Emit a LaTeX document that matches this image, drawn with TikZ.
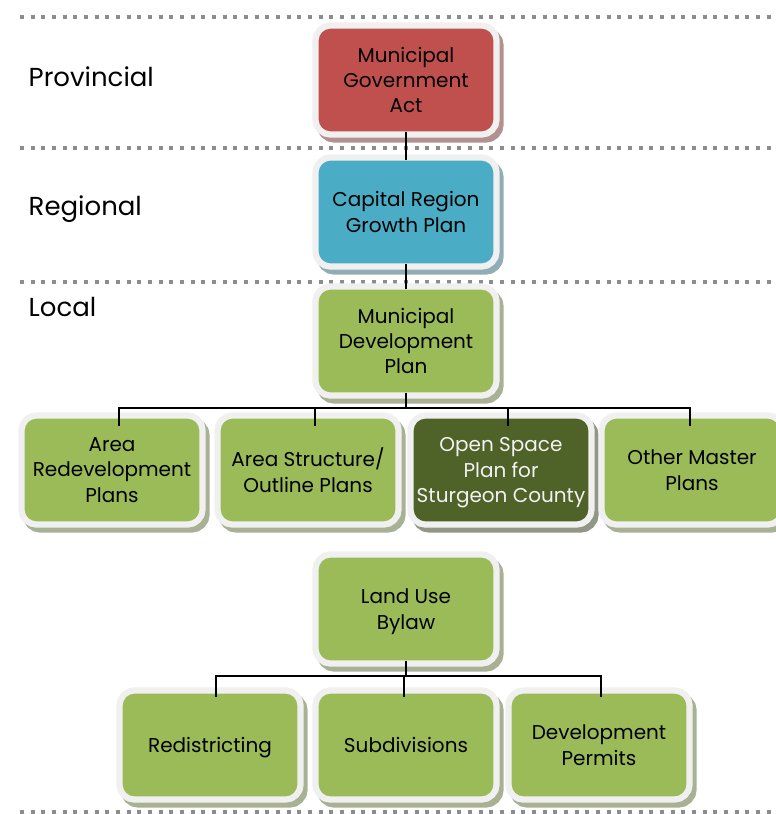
\documentclass[tikz,border=0pt]{standalone}
\usepackage{fontspec}
\setmainfont{Poppins}

\definecolor{actred}{HTML}{C0504D}
\definecolor{regionblue}{HTML}{4BACC6}
\definecolor{localgreen}{HTML}{9BBB59}
\definecolor{opengreen}{HTML}{4F6228}
\definecolor{framegray}{HTML}{F0F0F0}
\definecolor{tiergray}{HTML}{8C8C8C}

\begin{document}
\begin{tikzpicture}[x=0.75pt, y=-0.75pt,
		plan/.style={fill=#1, rounded corners=9pt, minimum width=131pt, minimum height=77pt,
			align=center, inner sep=2pt, text depth=-5pt, font=\fontsize{15}{19}\selectfont,
			preaction={draw=#1!40!gray!75!white, fill=#1!40!gray!75!white, line width=9.5pt,
				transform canvas={shift={(4,5)}}},
			preaction={draw=framegray, line width=9.5pt}},
		level/.style={anchor=west, font=\fontsize{19.5}{23}\selectfont},
		tier/.style={draw=tiergray, line width=3pt, dash pattern=on 3pt off 5pt},
		link/.style={line width=1.5pt}]
		\useasboundingbox (0,0) rectangle (775,814);
		\foreach \y in {17,148,282,812}
			\draw[tier] (20,\y) -- (775,\y);
		\node[level] (provincial) at (24,77) {Provincial};
		\node[level] (regional) at (24,209) {Regional};
		\node[level] (local) at (24,307) {Local};
		\node[plan=actred] (mga) at (406,80) {Municipal\\Government\\Act};
		\node[plan=regionblue] (crgp) at (406,212) {Capital Region\\Growth Plan};
		\node[plan=localgreen] (mdp) at (406,341) {Municipal\\Development\\Plan};
		\node[plan=localgreen] (arp) at (112,470) {Area\\Redevelopment\\Plans};
		\node[plan=localgreen] (asp) at (308,470) {Area Structure/\\Outline Plans};
		\node[plan=opengreen, text=white!95!black] (osp) at (501,470) {Open Space\\Plan for\\Sturgeon County};
		\node[plan=localgreen] (omp) at (692,470) {Other Master\\Plans};
		\node[plan=localgreen] (lub) at (406,609) {Land Use\\Bylaw};
		\node[plan=localgreen] (redis) at (210,745) {Redistricting};
		\node[plan=localgreen] (subdiv) at (406,745) {Subdivisions};
		\node[plan=localgreen] (devp) at (599,745) {Development\\Permits};
		\draw[link] (mga.south) -- (crgp.north);
		\draw[link] (crgp.south) -- (mdp.north);
		\draw[link] (mdp.south) -- ++(0,15) coordinate (mdpbus);
		\foreach \p/\dx in {arp/5pt, asp/5pt, osp/5pt, omp/-1.5pt}
			\draw[link] (mdpbus) -| ([xshift=\dx, yshift=-6pt]\p.north);
		\draw[link] (lub.south) -- ++(0,15) coordinate (lubbus);
		\foreach \p/\dx in {redis/4.5pt, subdiv/-1.5pt, devp/1.5pt}
			\draw[link] (lubbus) -| ([xshift=\dx, yshift=-3pt]\p.north);
	\end{tikzpicture}
\end{document}
